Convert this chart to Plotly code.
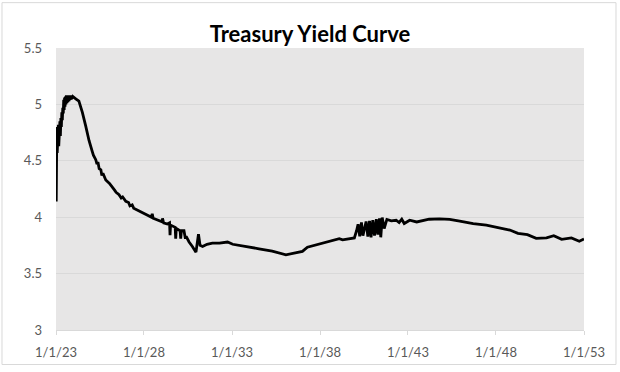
import plotly.graph_objects as go

dates = [
    "2023-01-06", "2023-01-09", "2023-01-18", "2023-01-26", "2023-02-03", "2023-02-11",
    "2023-02-19", "2023-02-27", "2023-03-07", "2023-03-15", "2023-03-23", "2023-04-02",
    "2023-04-12", "2023-04-22", "2023-05-02", "2023-05-12", "2023-05-22", "2023-06-01",
    "2023-06-10", "2023-06-19", "2023-06-28", "2023-07-07", "2023-07-16", "2023-07-25",
    "2023-08-04", "2023-08-14", "2023-08-24", "2023-09-04", "2023-09-15", "2023-09-28",
    "2023-10-10", "2023-10-24", "2023-11-08", "2023-11-22", "2023-12-15", "2024-01-10",
    "2024-02-15", "2024-04-20", "2024-07-01",
    "2024-09-08", "2024-10-01", "2024-11-16", "2025-01-25", "2025-02-15", "2025-04-05",
    "2025-05-01", "2025-05-20", "2025-06-15", "2025-07-20", "2025-08-10", "2025-09-01",
    "2025-10-30", "2026-01-15", "2026-03-15", "2026-05-01", "2026-06-01", "2026-08-01",
    "2026-09-15", "2026-10-15", "2026-12-20", "2027-02-15", "2027-03-15", "2027-05-01",
    "2027-06-01", "2027-09-20", "2027-11-01", "2028-02-05", "2028-04-15", "2028-06-01",
    "2028-06-20", "2028-07-10", "2028-11-10", "2029-01-10", "2029-01-20", "2029-02-10",
    "2029-05-01", "2029-06-15", "2029-06-25", "2029-07-05", "2029-10-10", "2029-10-20",
    "2029-11-01", "2030-01-20", "2030-02-01", "2030-02-15", "2030-04-10", "2030-05-10",
    "2030-05-25", "2030-07-25", "2030-10-01", "2030-12-15", "2031-02-05", "2031-03-10",
    "2031-05-01", "2031-08-01", "2031-11-20", "2032-04-15", "2032-10-01", "2033-01-15",
    "2034-07-15", "2035-04-15", "2036-01-25", "2037-01-01", "2037-04-15", "2037-11-15",
    "2038-07-15", "2039-02-05", "2039-04-15", "2039-12-15", "2040-01-30", "2040-03-01",
    "2040-04-05", "2040-05-10", "2040-06-10", "2040-08-15", "2040-09-20", "2040-10-25",
    "2040-11-25", "2041-01-01", "2041-02-05", "2041-03-15", "2041-04-15", "2041-05-20",
    "2041-06-15", "2041-07-15", "2041-08-25", "2041-10-20", "2042-01-20", "2042-05-01",
    "2042-07-01", "2042-08-25", "2042-10-15", "2043-02-05", "2043-07-01", "2043-12-01",
    "2044-03-15", "2044-10-15", "2045-05-15", "2045-12-10", "2046-09-15", "2047-06-15",
    "2048-03-15", "2048-10-15", "2049-04-01", "2049-10-15", "2050-04-15", "2050-11-15",
    "2051-04-15", "2051-09-25", "2052-04-15", "2052-09-25", "2053-01-01",
]

yields = [
    4.14, 4.78, 4.80, 4.57, 4.79, 4.60,
    4.82, 4.63, 4.81, 4.66, 4.85, 4.72,
    4.88, 4.80, 4.93, 4.86, 4.97, 4.92,
    5.04, 4.95, 5.06, 4.98, 5.07, 5.00,
    5.08, 5.01, 5.07, 5.02, 5.08, 5.03,
    5.08, 5.04, 5.08, 5.05, 5.07, 5.06,
    5.05, 5.03, 4.93,
    4.81, 4.76, 4.68, 4.58, 4.55, 4.51,
    4.47, 4.49, 4.43, 4.42, 4.37, 4.39,
    4.33, 4.30, 4.26, 4.24, 4.22, 4.20,
    4.17, 4.18, 4.14, 4.13, 4.10, 4.11,
    4.08, 4.055, 4.04, 4.02, 4.01, 4.00,
    4.03, 3.99, 3.973, 3.96, 3.99, 3.95,
    3.94, 3.95, 3.84, 3.93, 3.91, 3.81,
    3.90, 3.88, 3.81, 3.88, 3.88, 3.81,
    3.83, 3.78, 3.74, 3.69, 3.85, 3.75,
    3.74, 3.76, 3.77, 3.77, 3.78, 3.76,
    3.72, 3.70, 3.667, 3.697, 3.734, 3.758,
    3.787, 3.81, 3.80, 3.816, 3.88, 3.938,
    3.83, 3.953, 3.836, 3.962, 3.828, 3.967,
    3.822, 3.973, 3.836, 3.982, 3.845, 3.99,
    3.822, 3.997, 3.90, 3.98, 3.967, 3.973,
    3.953, 3.982, 3.944, 3.973, 3.958, 3.973,
    3.982, 3.985, 3.98, 3.966, 3.944, 3.93,
    3.909, 3.886, 3.857, 3.845, 3.813, 3.816,
    3.836, 3.804, 3.816, 3.787, 3.807,
]

x_tick_vals = ["2023-01-01", "2028-01-01", "2033-01-01", "2038-01-01",
               "2043-01-01", "2048-01-01", "2053-01-01"]
x_tick_text = ["1/1/23", "1/1/28", "1/1/33", "1/1/38", "1/1/43", "1/1/48", "1/1/53"]
y_tick_vals = [3, 3.5, 4, 4.5, 5, 5.5]
y_tick_text = ["3", "3.5", "4", "4.5", "5", "5.5"]

FONT = "Lato"
fig = go.Figure()
fig.add_trace(go.Scatter(
    x=dates, y=yields, mode="lines",
    line=dict(color="#000000", width=2.8),
    hoverinfo="x+y", showlegend=False,
))

fig.update_layout(
    width=620, height=372,
    margin=dict(l=56, r=36, t=48, b=38),
    paper_bgcolor="#ffffff",
    plot_bgcolor="#e7e6e6",
    title=dict(text="<b>Treasury Yield Curve</b>", x=0.5, xref="container",
               xanchor="center", y=1 - 34 / 372, yref="container", yanchor="middle",
               font=dict(family=FONT, size=22, color="#000000")),
    font=dict(family=FONT, size=13, color="#595959"),
    xaxis=dict(
        type="date", range=["2023-01-01", "2053-01-01"],
        tickvals=x_tick_vals, ticktext=x_tick_text,
        showgrid=False, zeroline=False,
        showline=True, linecolor="#d9d9d9", linewidth=1,
        ticks="outside", ticklen=4, tickcolor="#d9d9d9", tickwidth=1,
        ticklabelstandoff=6,
        tickfont=dict(family=FONT, size=13, color="#595959"),
    ),
    yaxis=dict(
        range=[3, 5.5], tickvals=y_tick_vals, ticktext=y_tick_text,
        showgrid=True, gridcolor="#d9d9d9", gridwidth=1,
        zeroline=False, showline=False, ticks="",
        ticklabelstandoff=13,
        tickfont=dict(family=FONT, size=13, color="#595959"),
    ),
    shapes=[dict(type="rect", xref="paper", yref="paper",
                 x0=-0.1023, x1=1.0606, y0=-0.1224, y1=1.1608,
                 line=dict(color="#d9d9d9", width=1), fillcolor="rgba(0,0,0,0)",
                 layer="below")],
)

fig.write_html("out.html", config={"displayModeBar": False},
               post_script="document.body.style.margin='0';document.body.style.overflow='hidden';")
